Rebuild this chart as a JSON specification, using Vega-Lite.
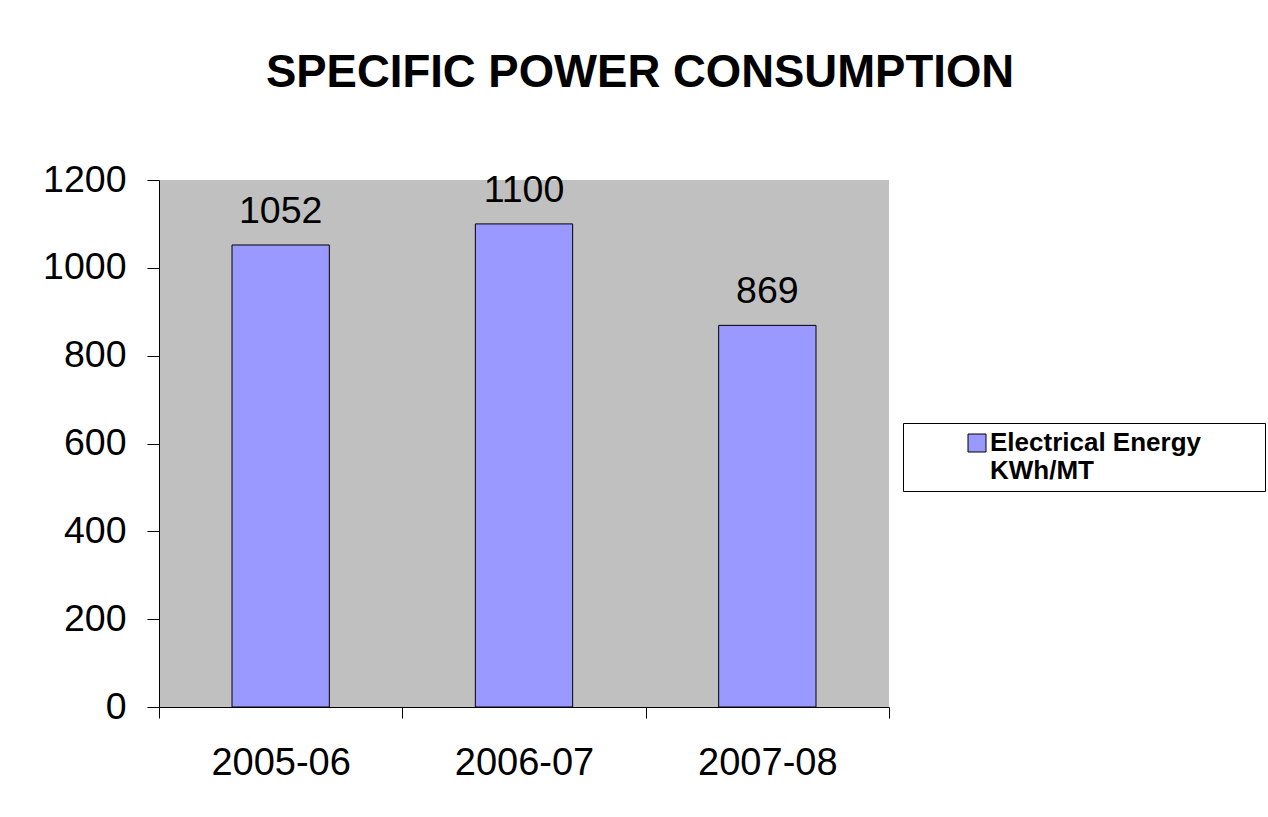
{
  "$schema": "https://vega.github.io/schema/vega-lite/v6.json",
  "autosize": "none",
  "width": 730,
  "height": 527,
  "padding": {"left": 159, "top": 180, "right": 379, "bottom": 110},
  "background": "white",
  "title": {
    "text": "SPECIFIC POWER CONSUMPTION",
    "font": "Liberation Sans",
    "fontSize": 45.5,
    "fontWeight": "bold",
    "color": "black",
    "anchor": "middle",
    "frame": "group",
    "dx": 116,
    "baseline": "alphabetic",
    "offset": 29
  },
  "config": {
    "view": {"fill": "#C0C0C0", "stroke": null},
    "axis": {
      "labelFont": "Liberation Sans",
      "labelFontSize": 37.5,
      "labelColor": "black",
      "domainColor": "black",
      "tickColor": "black",
      "grid": false,
      "title": null
    }
  },
  "data": {
    "values": [
      {"year": "2005-06", "value": 1052, "series": "Electrical Energy KWh/MT"},
      {"year": "2006-07", "value": 1100, "series": "Electrical Energy KWh/MT"},
      {"year": "2007-08", "value": 869, "series": "Electrical Energy KWh/MT"}
    ]
  },
  "encoding": {
    "x": {
      "field": "year",
      "type": "nominal",
      "scale": {"paddingInner": 0, "paddingOuter": 0},
      "axis": {"labelAngle": 0, "labelFontSize": 38, "tickSize": 11, "labelPadding": 26, "tickBand": "extent", "domainWidth": 1}
    },
    "y": {
      "field": "value",
      "type": "quantitative",
      "scale": {"domain": [0, 1200], "nice": false},
      "axis": {"values": [0, 200, 400, 600, 800, 1000, 1200], "format": "d", "tickSize": 12, "labelPadding": 21}
    }
  },
  "layer": [
    {
      "mark": {"type": "bar", "stroke": "black", "strokeWidth": 1, "width": {"band": 0.4}},
      "encoding": {
        "color": {
          "field": "series",
          "type": "nominal",
          "scale": {"range": ["#9999FF"]},
          "legend": {
            "title": null,
            "orient": "none",
            "legendX": 744,
            "legendY": 243,
            "padding": 7,
            "strokeColor": "black",
            "fillColor": "white",
            "symbolType": "square",
            "symbolSize": 324,
            "symbolStrokeColor": "black",
            "symbolStrokeWidth": 1,
            "symbolOffset": 54,
            "labelOffset": 0,
            "labelFont": "Liberation Sans",
            "labelFontSize": 26,
            "labelFontWeight": "bold",
            "labelColor": "black",
            "labelBaseline": "middle",
            "labelLimit": 400,
            "labelExpr": "['Electrical Energy\u2800\u2800\u2800', 'KWh/MT']"
          }
        }
      }
    },
    {
      "mark": {"type": "text", "baseline": "alphabetic", "dy": -22, "font": "Liberation Sans", "fontSize": 37.5, "color": "black"},
      "encoding": {"text": {"field": "value", "type": "quantitative"}}
    }
  ]
}
